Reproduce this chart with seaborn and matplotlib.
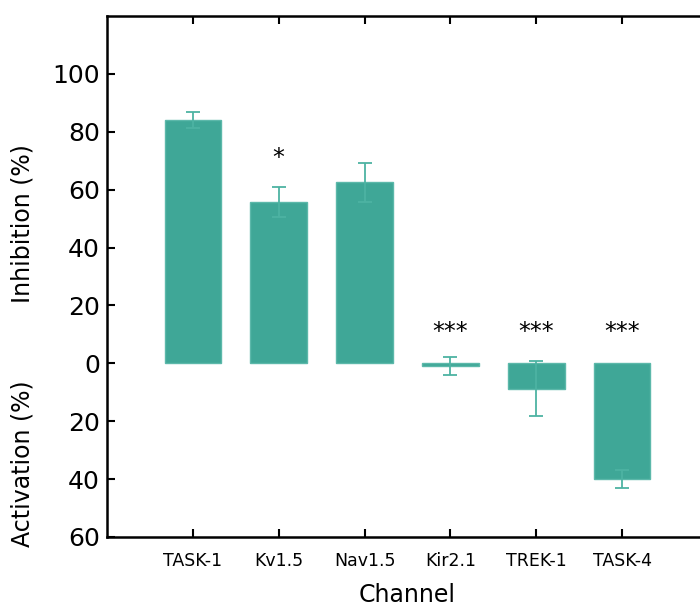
import matplotlib
matplotlib.use("Agg")
import matplotlib.pyplot as plt
import seaborn as sns
import pandas as pd

channels = ["TASK-1", "Kv1.5", "Nav1.5", "Kir2.1", "TREK-1", "TASK-4"]
# positive = inhibition, negative = activation
effect = [84.0, 55.8, 62.5, -1.0, -8.7, -40.0]
sem = [2.7, 5.1, 6.8, 3.1, 9.5, 3.0]
stars = ["", "*", "", "***", "***", "***"]
star_y = [0, 71, 0, 10.7, 10.7, 10.7]

bar_color = "#3fa797"
err_color = "#4db3a3"

df = pd.DataFrame({"Channel": channels, "effect": effect})

sns.set_style("ticks", {"axes.edgecolor": "black", "text.color": "black",
                        "xtick.color": "black", "ytick.color": "black",
                        "axes.labelcolor": "black"})
plt.rcParams["font.family"] = ["DejaVu Sans"]

fig = plt.figure(figsize=(7, 6.06), dpi=100)
ax = fig.add_axes([107 / 700, 69 / 606, 601 / 700, 521 / 606])

sns.barplot(data=df, x="Channel", y="effect", color=bar_color, width=0.66,
            edgecolor="#5cb8aa", linewidth=1, saturation=1, ax=ax)
ax.errorbar(range(len(channels)), effect, yerr=sem, fmt="none",
            ecolor=err_color, elinewidth=1.3, capsize=5, capthick=1.3)

for i, s in enumerate(stars):
    if s:
        ax.text(i, star_y[i], s, ha="center", va="center", fontsize=17,
                color="black")

ax.set_xlim(-1, 6)
ax.set_ylim(-60, 120)
yt = list(range(-60, 101, 20))
ax.set_yticks(yt)
ax.set_yticklabels([str(abs(v)) for v in yt], fontsize=18)
ax.tick_params(axis="x", labelsize=12.5, pad=11)
ax.tick_params(axis="y", pad=5)
ax.tick_params(direction="in", length=6, width=1.5, top=True, right=True,
               colors="black")
for sp in ax.spines.values():
    sp.set_linewidth(1.8)
    sp.set_color("black")
    sp.set_visible(True)

ax.set_xlabel("Channel", fontsize=17, labelpad=9, color="black")
ax.set_ylabel("")
fig.text(23 / 700, 1 - 224 / 606, "Inhibition (%)", rotation=90,
         ha="center", va="center", fontsize=17, color="black")
fig.text(23 / 700, 1 - 464 / 606, "Activation (%)", rotation=90,
         ha="center", va="center", fontsize=17, color="black")

fig.savefig("out.png", dpi=100)
